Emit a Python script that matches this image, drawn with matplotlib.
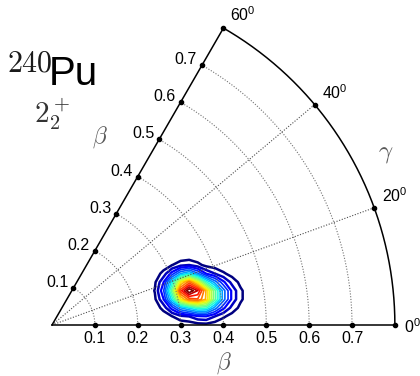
import numpy as np
import matplotlib
matplotlib.use('Agg')
import matplotlib.pyplot as plt

plt.rcParams['font.family'] = ['Liberation Sans', 'DejaVu Sans']
plt.rcParams['mathtext.fontset'] = 'custom'
plt.rcParams['mathtext.rm'] = 'Liberation Sans'
plt.rcParams['mathtext.it'] = 'Liberation Sans:italic'

# beta ticks and gamma ticks (degrees)
beta_ticks = [0.1, 0.2, 0.3, 0.4, 0.5, 0.6, 0.7]
beta_labels = ['0.1', '0.2', '0.3', '0.4', '0.5', '0.6', '0.7']
gamma_ticks = [0, 20, 40, 60]
beta_max = 0.8

# density on a cartesian grid x = beta cos(gamma), y = beta sin(gamma)
grid_x = [0.20, 0.22, 0.24, 0.26, 0.28, 0.30, 0.32, 0.34, 0.36, 0.38, 0.40, 0.42, 0.44, 0.46, 0.48]
grid_y = [-0.02, 0.00, 0.02, 0.04, 0.06, 0.08, 0.10, 0.12, 0.14, 0.16, 0.18]
density = [
    [0, 0, 0, 0, 0.001, 0.001, 0.002, 0.003, 0.004, 0.003, 0.002, 0.001, 0, 0, 0],
    [0, 0, 0.001, 0.003, 0.008, 0.014, 0.017, 0.028, 0.032, 0.022, 0.013, 0.006, 0.003, 0.001, 0],
    [0, 0.001, 0.005, 0.019, 0.048, 0.083, 0.100, 0.139, 0.147, 0.100, 0.058, 0.029, 0.013, 0.005, 0.001],
    [0.001, 0.004, 0.019, 0.068, 0.173, 0.299, 0.360, 0.426, 0.412, 0.280, 0.162, 0.082, 0.035, 0.013, 0.004],
    [0.001, 0.008, 0.041, 0.147, 0.372, 0.643, 0.775, 0.796, 0.691, 0.470, 0.273, 0.137, 0.059, 0.022, 0.007],
    [0.001, 0.010, 0.053, 0.190, 0.480, 0.830, 1.000, 0.898, 0.691, 0.470, 0.273, 0.137, 0.059, 0.022, 0.007],
    [0.001, 0.008, 0.041, 0.147, 0.372, 0.643, 0.775, 0.620, 0.412, 0.280, 0.162, 0.082, 0.035, 0.013, 0.004],
    [0.001, 0.004, 0.019, 0.068, 0.173, 0.299, 0.360, 0.259, 0.147, 0.100, 0.058, 0.029, 0.013, 0.005, 0.001],
    [0, 0.001, 0.005, 0.019, 0.048, 0.083, 0.100, 0.067, 0.032, 0.022, 0.013, 0.006, 0.003, 0.001, 0],
    [0, 0, 0.001, 0.003, 0.008, 0.014, 0.017, 0.010, 0.004, 0.003, 0.002, 0.001, 0, 0, 0],
    [0, 0, 0, 0, 0.001, 0.001, 0.002, 0.001, 0, 0, 0, 0, 0, 0, 0],
]
levels = [0.05, 0.10, 0.15, 0.20, 0.25, 0.30, 0.35, 0.40, 0.45, 0.50,
          0.55, 0.60, 0.65, 0.70, 0.75, 0.80, 0.85, 0.90, 0.95]


def pol(b, g):
    t = np.radians(g)
    return b * np.cos(t), b * np.sin(t)


fig = plt.figure(figsize=(4.2, 3.76), dpi=100)
ax = fig.add_axes([0, 0, 1, 1])
S = 428.6  # pixels per unit beta
ax.set_xlim(-52 / S, (420 - 52) / S)
ax.set_ylim(-(376 - 325) / S, 325 / S)
ax.axis('off')

# contours
lw = [1.8, 1.8, 1.6] + [1.2] * (len(levels) - 3)
ax.contour(grid_x, grid_y, np.array(density), levels=levels, cmap='jet',
           linewidths=lw, zorder=2)

# dotted grid
g = np.linspace(0, 60, 200)
for b in beta_ticks:
    x, y = pol(b, g)
    ax.plot(x, y, color='0.45', lw=0.8, ls=(0, (1, 1.5)), zorder=3)
for gg in [20, 40]:
    x, y = pol(np.array([0, beta_max]), gg)
    ax.plot(x, y, color='0.3', lw=0.8, ls=(0, (1, 1.5)), zorder=3)

# frame
x, y = pol(beta_max, g)
ax.plot(x, y, color='k', lw=1.1, zorder=4)
for gg in [0, 60]:
    x, y = pol(np.array([0, beta_max]), gg)
    ax.plot(x, y, color='k', lw=1.1, zorder=4)

# tick dots
bt = np.array(beta_ticks)
x, y = pol(bt, 0)
ax.plot(x, y, 'ko', ms=3, zorder=5)
x, y = pol(bt, 60)
ax.plot(x, y, 'ko', ms=3, zorder=5)
x, y = pol(beta_max, np.array(gamma_ticks))
ax.plot(x, y, 'ko', ms=3, zorder=5)

# beta tick labels
for b, lab in zip(beta_ticks, beta_labels):
    x, y = pol(b, 0)
    ax.annotate(lab, (x, y), xytext=(0, -18), textcoords='offset pixels',
                ha='center', va='baseline', fontsize=11.5)
    x, y = pol(b, 60)
    ax.annotate(lab, (x, y), xytext=(-5, 1), textcoords='offset pixels',
                ha='right', va='baseline', fontsize=11.5)

# gamma tick labels
offs = {0: (9, -8), 20: (8, 6), 40: (7, 6), 60: (7, 7)}
for gg in gamma_ticks:
    x, y = pol(beta_max, gg)
    ax.annotate(r'%d$^{0}$' % gg, (x, y), xytext=offs[gg], textcoords='offset pixels',
                ha='left', va='baseline', fontsize=11.5)

# axis names
ax.text(100 / 420, 1 - 137 / 376, r'$\beta$', transform=ax.transAxes, ha='center', va='center',
        fontsize=17, color='0.35', math_fontfamily='cm')
ax.text(224 / 420, 1 - 363 / 376, r'$\beta$', transform=ax.transAxes, ha='center', va='center',
        fontsize=17, color='0.35', math_fontfamily='cm')
ax.text(386 / 420, 1 - 153 / 376, r'$\gamma$', transform=ax.transAxes, ha='center', va='center',
        fontsize=18, color='0.35', math_fontfamily='cm')

# nucleus and state
ax.text(7 / 420, 1 - 72 / 376, r'$\mathrm{240}$', transform=ax.transAxes, ha='left', va='baseline',
        fontsize=21.5, color='0.1', math_fontfamily='cm')
ax.text(49 / 420, 1 - 85 / 376, 'Pu', transform=ax.transAxes, ha='left', va='baseline',
        fontsize=29, color='k')
ax.text(34 / 420, 1 - 123 / 376, r'$2_2^+$', transform=ax.transAxes, ha='left', va='baseline',
        fontsize=21, color='0.2', math_fontfamily='cm')

fig.savefig('out.png', dpi=100)
